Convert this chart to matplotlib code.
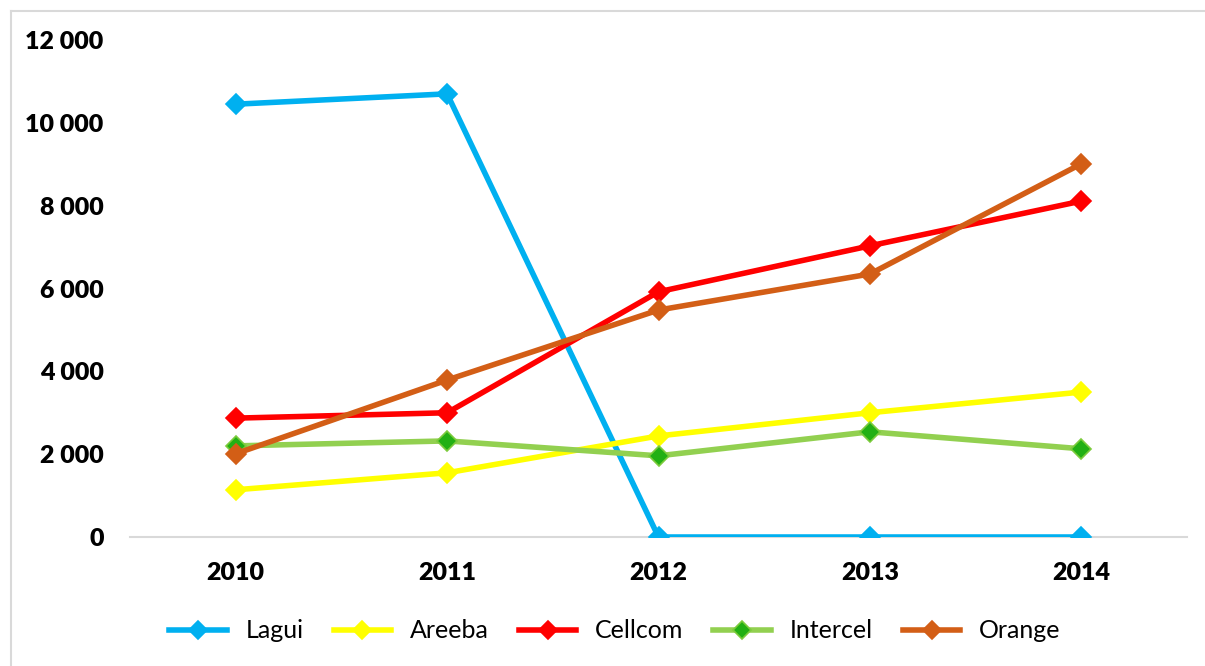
import matplotlib
matplotlib.use("Agg")
import matplotlib.pyplot as plt
from matplotlib.lines import Line2D
from matplotlib.ticker import FuncFormatter

years = ["2010", "2011", "2012", "2013", "2014"]
lagui = [10450, 10700, 0, 0, 0]
areeba = [1140, 1550, 2440, 3000, 3500]
cellcom = [2870, 3000, 5920, 7030, 8110]
intercel = [2200, 2320, 1960, 2540, 2130]
orange = [2010, 3790, 5480, 6350, 9010]

series = [
    ("Lagui", lagui, "#00B0F0", "#00B0F0", "#00B0F0"),
    ("Areeba", areeba, "#FFFF00", "#FFFF00", "#FFFF00"),
    ("Cellcom", cellcom, "#FF0000", "#FF0000", "#FF0000"),
    ("Intercel", intercel, "#92D050", "#22B014", "#7CCB3C"),
    ("Orange", orange, "#D35E16", "#D35E16", "#D35E16"),
]

plt.rcParams['font.family'] = ['Lato', 'DejaVu Sans']

W, H = 1205, 666
fig = plt.figure(figsize=(W / 100, H / 100), dpi=100)
ax = fig.add_axes([130 / W, 1 - 537 / H, (1187 - 130) / W, (537 - 40) / H])

x = list(range(len(years)))
for name, vals, lc, mfc, mec in series:
    ax.plot(x, vals, color=lc, lw=4.0, marker='D', markersize=10,
            markerfacecolor=mfc, markeredgecolor=mec, markeredgewidth=1.2,
            label=name, solid_joinstyle='miter')

ax.set_xlim(-0.5, len(years) - 0.5)
ax.set_ylim(0, 12000)
ax.set_yticks(range(0, 12001, 2000))
ax.yaxis.set_major_formatter(FuncFormatter(lambda v, p: f"{int(v):,}".replace(",", " ")))
ax.set_xticks(x)
ax.set_xticklabels(years)
for s in ['top', 'right', 'left']:
    ax.spines[s].set_visible(False)
ax.spines['bottom'].set_color('#D9D9D9')
ax.spines['bottom'].set_linewidth(1.5)
ax.spines['bottom'].set_zorder(0)
ax.tick_params(axis='both', length=0, labelsize=18)
ax.tick_params(axis='y', pad=19)
ax.tick_params(axis='x', pad=18)
for lbl in ax.get_xticklabels() + ax.get_yticklabels():
    lbl.set_fontweight('heavy')
    lbl.set_color('black')

leg = fig.legend(loc='center', bbox_to_anchor=(615 / W, 1 - 631 / H), ncol=5,
                 frameon=False, fontsize=18, handlelength=2.3, columnspacing=1.2,
                 handletextpad=0.75, markerscale=0.9)

# chart border (left and top visible)
fig.add_artist(Line2D([10.5 / W, 10.5 / W], [0, 1 - 11 / H], transform=fig.transFigure,
                      color='#D9D9D9', lw=1.5))
fig.add_artist(Line2D([10.5 / W, 1], [1 - 11 / H, 1 - 11 / H], transform=fig.transFigure,
                      color='#D9D9D9', lw=1.5))

fig.savefig("out.png", dpi=100, facecolor='white')
